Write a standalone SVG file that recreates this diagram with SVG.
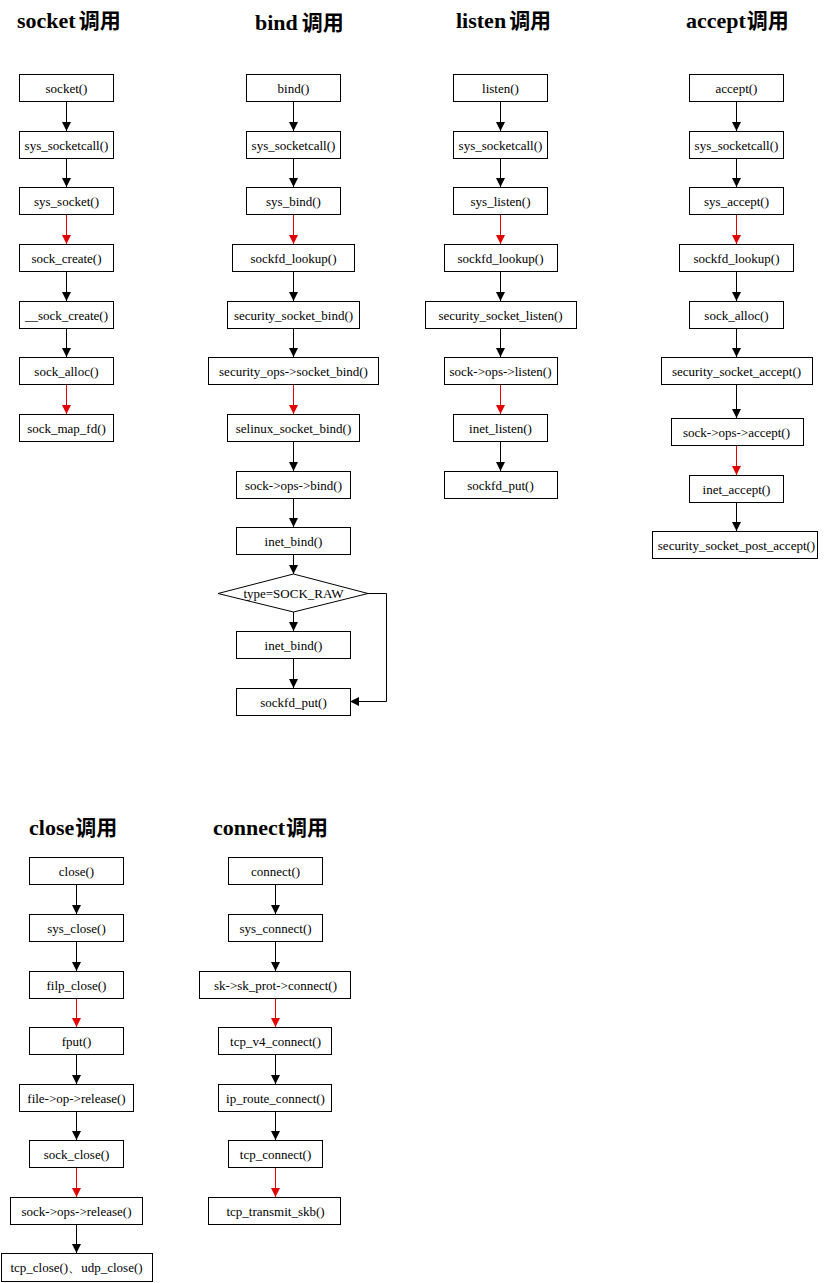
<svg xmlns="http://www.w3.org/2000/svg" width="824" height="1283" viewBox="0 0 824 1283">
<defs>
<marker id="ab" markerUnits="userSpaceOnUse" markerWidth="9" markerHeight="9" refX="9" refY="4.5" orient="auto"><path d="M0,0 L9,4.5 L0,9 z" fill="#000"/></marker>
<marker id="ar" markerUnits="userSpaceOnUse" markerWidth="9" markerHeight="9" refX="9" refY="4.5" orient="auto"><path d="M0,0 L9,4.5 L0,9 z" fill="#e00000"/></marker>
<style>
.b{fill:#fff;stroke:#000;stroke-width:1}
.t{font-family:"Liberation Serif","Times New Roman",serif;font-size:13px;text-anchor:middle;fill:#000}
.h{font-family:"Liberation Serif","Times New Roman",serif;font-size:22px;font-weight:bold;fill:#000}
.cj{font-family:"Noto Sans CJK SC",sans-serif;font-size:21px;font-weight:bold}
.k{stroke:#000;stroke-width:1;fill:none;marker-end:url(#ab)}
.r{stroke:#e00000;stroke-width:1;fill:none;marker-end:url(#ar)}
</style>
</defs>
<rect width="824" height="1283" fill="#fff"/>
<g id="titles">
<text class="h" x="17" y="28">socket<tspan class="cj" dx="3">调用</tspan></text>
<text class="h" x="255" y="30">bind<tspan class="cj" dx="4">调用</tspan></text>
<text class="h" x="456" y="28">listen<tspan class="cj" dx="3">调用</tspan></text>
<text class="h" x="686" y="28">accept<tspan class="cj" dx="1">调用</tspan></text>
<text class="h" x="29" y="835">close<tspan class="cj" dx="1">调用</tspan></text>
<text class="h" x="213" y="835">connect<tspan class="cj" dx="1">调用</tspan></text>
</g>
<g id="connectors">
<!-- socket -->
<path class="k" d="M66.5,102 V131"/>
<path class="k" d="M66.5,159 V187"/>
<path class="r" d="M66.5,215 V244"/>
<path class="k" d="M66.5,272 V301"/>
<path class="k" d="M66.5,329 V357"/>
<path class="r" d="M66.5,385 V414"/>
<!-- bind -->
<path class="k" d="M293.5,102 V131"/>
<path class="k" d="M293.5,159 V187"/>
<path class="r" d="M293.5,215 V244"/>
<path class="k" d="M293.5,272 V301"/>
<path class="k" d="M293.5,329 V357"/>
<path class="r" d="M293.5,385 V414"/>
<path class="k" d="M293.5,442 V471"/>
<path class="k" d="M293.5,499 V527"/>
<path class="k" d="M293.5,555 V574"/>
<path class="k" d="M293.5,612 V631"/>
<path class="k" d="M293.5,659 V688"/>
<path class="k" d="M368,593.5 H386.5 V701.5 H350"/>
<!-- listen -->
<path class="k" d="M500.5,102 V131"/>
<path class="k" d="M500.5,159 V187"/>
<path class="r" d="M500.5,215 V244"/>
<path class="k" d="M500.5,272 V301"/>
<path class="k" d="M500.5,329 V357"/>
<path class="r" d="M500.5,385 V414"/>
<path class="k" d="M500.5,442 V471"/>
<!-- accept -->
<path class="k" d="M736.5,102 V131"/>
<path class="k" d="M736.5,159 V187"/>
<path class="r" d="M736.5,215 V244"/>
<path class="k" d="M736.5,272 V301"/>
<path class="k" d="M736.5,329 V357"/>
<path class="k" d="M736.5,385 V418"/>
<path class="r" d="M736.5,446 V475"/>
<path class="k" d="M736.5,503 V531"/>
<!-- close -->
<path class="k" d="M76.5,885 V914"/>
<path class="k" d="M76.5,942 V971"/>
<path class="r" d="M76.5,999 V1027"/>
<path class="k" d="M76.5,1055 V1084"/>
<path class="k" d="M76.5,1112 V1140"/>
<path class="r" d="M76.5,1168 V1197"/>
<path class="k" d="M76.5,1225 V1253"/>
<!-- connect -->
<path class="k" d="M275.5,885 V914"/>
<path class="k" d="M275.5,942 V971"/>
<path class="r" d="M275.5,999 V1027"/>
<path class="k" d="M275.5,1055 V1084"/>
<path class="k" d="M275.5,1112 V1140"/>
<path class="r" d="M275.5,1168 V1197"/>
</g>
<!-- socket column -->
<g id="s0"><rect class="b" x="19.5" y="74.5" width="94" height="27"/><text class="t" x="66.5" y="92.5">socket()</text></g>
<g id="s1"><rect class="b" x="19.5" y="131.5" width="94" height="27"/><text class="t" x="66.5" y="149.5">sys_socketcall()</text></g>
<g id="s2"><rect class="b" x="19.5" y="187.5" width="94" height="27"/><text class="t" x="66.5" y="205.5">sys_socket()</text></g>
<g id="s3"><rect class="b" x="19.5" y="244.5" width="94" height="27"/><text class="t" x="66.5" y="262.5">sock_create()</text></g>
<g id="s4"><rect class="b" x="19.5" y="301.5" width="94" height="27"/><text class="t" x="66.5" y="319.5">__sock_create()</text></g>
<g id="s5"><rect class="b" x="19.5" y="357.5" width="94" height="27"/><text class="t" x="66.5" y="375.5">sock_alloc()</text></g>
<g id="s6"><rect class="b" x="19.5" y="414.5" width="94" height="27"/><text class="t" x="66.5" y="432.5">sock_map_fd()</text></g>
<!-- bind column -->
<g id="b0"><rect class="b" x="246.5" y="74.5" width="94" height="27"/><text class="t" x="293.5" y="92.5">bind()</text></g>
<g id="b1"><rect class="b" x="246.5" y="131.5" width="94" height="27"/><text class="t" x="293.5" y="149.5">sys_socketcall()</text></g>
<g id="b2"><rect class="b" x="246.5" y="187.5" width="94" height="27"/><text class="t" x="293.5" y="205.5">sys_bind()</text></g>
<g id="b3"><rect class="b" x="232.5" y="244.5" width="122" height="27"/><text class="t" x="293.5" y="262.5">sockfd_lookup()</text></g>
<g id="b4"><rect class="b" x="227.5" y="301.5" width="132" height="27"/><text class="t" x="293.5" y="319.5">security_socket_bind()</text></g>
<g id="b5"><rect class="b" x="208.5" y="357.5" width="170" height="27"/><text class="t" x="293.5" y="375.5">security_ops-&gt;socket_bind()</text></g>
<g id="b6"><rect class="b" x="227.5" y="414.5" width="132" height="27"/><text class="t" x="293.5" y="432.5">selinux_socket_bind()</text></g>
<g id="b7"><rect class="b" x="236.5" y="471.5" width="114" height="27"/><text class="t" x="293.5" y="489.5">sock-&gt;ops-&gt;bind()</text></g>
<g id="b8"><rect class="b" x="236.5" y="527.5" width="114" height="27"/><text class="t" x="293.5" y="545.5">inet_bind()</text></g>
<g id="b9"><polygon class="b" points="218,593.5 293.5,574 368,593.5 293.5,612"/><text class="t" x="293.5" y="598">type=SOCK_RAW</text></g>
<g id="b10"><rect class="b" x="236.5" y="631.5" width="114" height="27"/><text class="t" x="293.5" y="649.5">inet_bind()</text></g>
<g id="b11"><rect class="b" x="236.5" y="688.5" width="114" height="27"/><text class="t" x="293.5" y="706.5">sockfd_put()</text></g>
<!-- listen column -->
<g id="l0"><rect class="b" x="453.5" y="74.5" width="94" height="27"/><text class="t" x="500.5" y="92.5">listen()</text></g>
<g id="l1"><rect class="b" x="453.5" y="131.5" width="94" height="27"/><text class="t" x="500.5" y="149.5">sys_socketcall()</text></g>
<g id="l2"><rect class="b" x="453.5" y="187.5" width="94" height="27"/><text class="t" x="500.5" y="205.5">sys_listen()</text></g>
<g id="l3"><rect class="b" x="444.5" y="244.5" width="113" height="27"/><text class="t" x="500.5" y="262.5">sockfd_lookup()</text></g>
<g id="l4"><rect class="b" x="425.5" y="301.5" width="151" height="27"/><text class="t" x="500.5" y="319.5">security_socket_listen()</text></g>
<g id="l5"><rect class="b" x="444.5" y="357.5" width="113" height="27"/><text class="t" x="500.5" y="375.5">sock-&gt;ops-&gt;listen()</text></g>
<g id="l6"><rect class="b" x="453.5" y="414.5" width="94" height="27"/><text class="t" x="500.5" y="432.5">inet_listen()</text></g>
<g id="l7"><rect class="b" x="444.5" y="471.5" width="113" height="27"/><text class="t" x="500.5" y="489.5">sockfd_put()</text></g>
<!-- accept column -->
<g id="a0"><rect class="b" x="689.5" y="74.5" width="94" height="27"/><text class="t" x="736.5" y="92.5">accept()</text></g>
<g id="a1"><rect class="b" x="689.5" y="131.5" width="94" height="27"/><text class="t" x="736.5" y="149.5">sys_socketcall()</text></g>
<g id="a2"><rect class="b" x="689.5" y="187.5" width="94" height="27"/><text class="t" x="736.5" y="205.5">sys_accept()</text></g>
<g id="a3"><rect class="b" x="679.5" y="244.5" width="114" height="27"/><text class="t" x="736.5" y="262.5">sockfd_lookup()</text></g>
<g id="a4"><rect class="b" x="689.5" y="301.5" width="94" height="27"/><text class="t" x="736.5" y="319.5">sock_alloc()</text></g>
<g id="a5"><rect class="b" x="661.5" y="357.5" width="151" height="27"/><text class="t" x="736.5" y="375.5">security_socket_accept()</text></g>
<g id="a6"><rect class="b" x="671.5" y="418.5" width="132" height="27"/><text class="t" x="736.5" y="436.5">sock-&gt;ops-&gt;accept()</text></g>
<g id="a7"><rect class="b" x="689.5" y="475.5" width="94" height="27"/><text class="t" x="736.5" y="493.5">inet_accept()</text></g>
<g id="a8"><rect class="b" x="652.5" y="531.5" width="165" height="27"/><text class="t" x="736.5" y="549.5">security_socket_post_accept()</text></g>
<!-- close column -->
<g id="c0"><rect class="b" x="29.5" y="857.5" width="94" height="27"/><text class="t" x="76.5" y="875.5">close()</text></g>
<g id="c1"><rect class="b" x="29.5" y="914.5" width="94" height="27"/><text class="t" x="76.5" y="932.5">sys_close()</text></g>
<g id="c2"><rect class="b" x="29.5" y="971.5" width="94" height="27"/><text class="t" x="76.5" y="989.5">filp_close()</text></g>
<g id="c3"><rect class="b" x="29.5" y="1027.5" width="94" height="27"/><text class="t" x="76.5" y="1045.5">fput()</text></g>
<g id="c4"><rect class="b" x="19.5" y="1084.5" width="114" height="27"/><text class="t" x="76.5" y="1102.5">file-&gt;op-&gt;release()</text></g>
<g id="c5"><rect class="b" x="29.5" y="1140.5" width="94" height="27"/><text class="t" x="76.5" y="1158.5">sock_close()</text></g>
<g id="c6"><rect class="b" x="10.5" y="1197.5" width="132" height="27"/><text class="t" x="76.5" y="1215.5">sock-&gt;ops-&gt;release()</text></g>
<g id="c7"><rect class="b" x="1.5" y="1253.5" width="151" height="28"/><text class="t" x="76.5" y="1272">tcp_close()、udp_close()</text></g>
<!-- connect column -->
<g id="n0"><rect class="b" x="228.5" y="857.5" width="94" height="27"/><text class="t" x="275.5" y="875.5">connect()</text></g>
<g id="n1"><rect class="b" x="228.5" y="914.5" width="94" height="27"/><text class="t" x="275.5" y="932.5">sys_connect()</text></g>
<g id="n2"><rect class="b" x="199.5" y="971.5" width="151" height="27"/><text class="t" x="275.5" y="989.5">sk-&gt;sk_prot-&gt;connect()</text></g>
<g id="n3"><rect class="b" x="218.5" y="1027.5" width="113" height="27"/><text class="t" x="275.5" y="1045.5">tcp_v4_connect()</text></g>
<g id="n4"><rect class="b" x="218.5" y="1084.5" width="113" height="27"/><text class="t" x="275.5" y="1102.5">ip_route_connect()</text></g>
<g id="n5"><rect class="b" x="228.5" y="1140.5" width="94" height="27"/><text class="t" x="275.5" y="1158.5">tcp_connect()</text></g>
<g id="n6"><rect class="b" x="208.5" y="1197.5" width="132" height="27"/><text class="t" x="275.5" y="1215.5">tcp_transmit_skb()</text></g>
</svg>
